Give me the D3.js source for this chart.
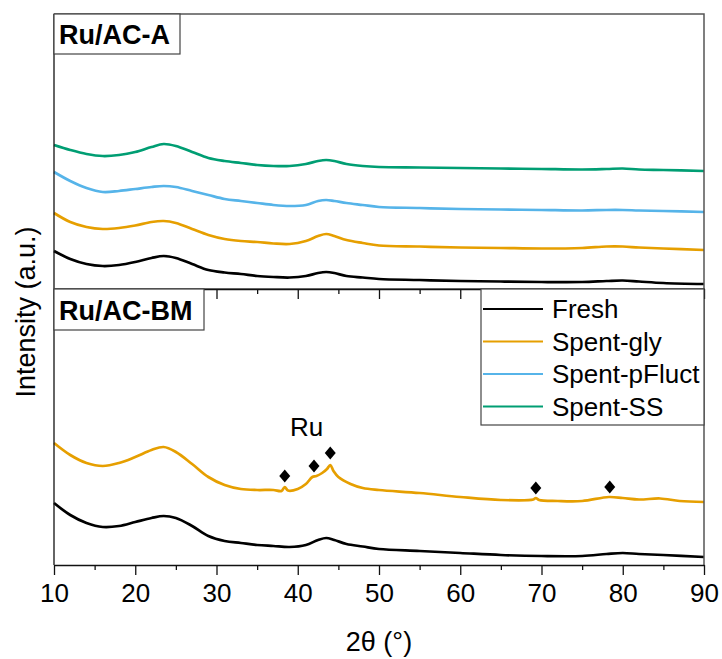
<!DOCTYPE html>
<html><head><meta charset="utf-8">
<script src="https://cdn.jsdelivr.net/npm/d3@7"></script>
<style>
body{margin:0;background:#fff}
text{font-family:"Liberation Sans",Arial,sans-serif;fill:#000}
</style>
</head><body>
<svg id="c" width="722" height="659"></svg>
<script>
// ---- data (2θ in degrees, intensity in arbitrary units) ----
const twoTheta = [10,12,14,16,18,20,22,23.5,25,27,29,31,33,35,37,39,41,42.5,43.5,44.5,46,48,50,55,60,65,70,75,78,80,82,85,90];

// Ru/AC-A panel (offset stacked)
const aFresh    = [38,30,25,23,24,27,31,33,31,25,19,16.5,15,13,12,11.5,13,16,17,16,13,11.5,10,9,8,7.5,7,7,8,8.5,7.5,6,5];
const aSpentGly = [76,67,62,60,61,63.5,67,68,66,60,54,50,48,47,45.5,45,48,53,55,53,49,46,43.5,42.5,41.5,41,40.5,41,42.5,42.5,41.5,40.5,39];
const aSpentPF  = [117,108,101,97,98,100,102,103,102,98,94,90,88,86,84,83,84,88,89,88,86,84,82,81,80,79.5,79,78.5,79,79,78.5,78,77];
const aSpentSS  = [144,139,135,133,134,137,142,145,143,137,131,128,126,124,123,123,125,128,129,128,125,123,122,121.5,121,120.5,120,119.5,120,120.5,119.5,119,118];

// Ru/AC-BM panel
const bmFresh = [62,50,42,38,39,43,47,49,47,39,29,24,22,20,19,18,20,25,27,25,21,18.5,16,14,12,10,9,9,11,12,11,10,8];
const twoThetaGly = [10,12,14,16,18,20,22,23.5,25,27,29,31,33,35,37,38,38.4,38.8,40,41,41.8,42.3,43,43.6,44,44.4,45,46.5,48,50,55,60,65,69,69.3,69.7,72,75,78.3,80,82,84.6,87,90];
const bmSpentGly = [122,110,102,99,102,108,115,118,113,101,88,80,76,75,75,74,78,74.5,76,81,88,89,92,96,100,94,88,81,77,75,72,68,65,65.5,67,65,64,64,68,67,65.5,66.5,64,63];

// Ru reflections (diamond markers)
const ruPeakPos    = [38.4, 42.0, 44.0, 69.3, 78.4];
const ruPeakHeight = [89, 99, 112, 77, 78];

const seriesNames  = ["Fresh","Spent-gly","Spent-pFluct","Spent-SS"];
const seriesColors = ["#000000","#E69F00","#56B4E9","#009E73"];
const xTicks = [10,20,30,40,50,60,70,80,90];
const xMinorTicks = [15,25,35,45,55,65,75,85];

// ---- layout ----
const svg = d3.select("#c");
const L = 54, R = 704, topT = 14, mid = 289, botB = 565;

const x = d3.scaleLinear().domain([10,90]).range([L,R]);
const yA = d3.scaleLinear().domain([0,275]).range([mid, topT]);
const yB = d3.scaleLinear().domain([0,276]).range([botB, mid]);

const lineGen = (xs, ys, y) => d3.line()
  .x((d,i)=>x(xs[i])).y(d=>y(d)).curve(d3.curveCatmullRom.alpha(0.5))(ys);

function drawSeries(xs, ys, y, color){
  svg.append("path").attr("d", lineGen(xs, ys, y))
    .attr("fill","none").attr("stroke",color).attr("stroke-width",2.7)
    .attr("stroke-linejoin","round");
}

// top panel curves
drawSeries(twoTheta, aSpentSS, yA, seriesColors[3]);
drawSeries(twoTheta, aSpentPF, yA, seriesColors[2]);
drawSeries(twoTheta, aSpentGly, yA, seriesColors[1]);
drawSeries(twoTheta, aFresh, yA, seriesColors[0]);

// bottom panel curves
drawSeries(twoThetaGly, bmSpentGly, yB, seriesColors[1]);
drawSeries(twoTheta, bmFresh, yB, seriesColors[0]);

// diamonds
svg.append("g").selectAll("path").data(ruPeakPos).join("path")
  .attr("transform",(d,i)=>`translate(${x(d)},${yB(ruPeakHeight[i])})`)
  .attr("d","M0,-6.5L5.5,0L0,6.5L-5.5,0Z").attr("fill","#000");

svg.append("text").attr("x", x(41.1)).attr("y", yB(138)).attr("dy","0.35em")
  .attr("text-anchor","middle").style("font-size","26px").text("Ru");

// frames
function frame(y0, y1){
  svg.append("path").attr("d",`M${L},${y0}H${R}V${y1}`).attr("fill","none")
    .attr("stroke","#555").attr("stroke-width",1.5);
  svg.append("path").attr("d",`M${L},${y0}V${y1}`).attr("fill","none")
    .attr("stroke","#111").attr("stroke-width",1.3);
}
frame(topT, mid);
frame(mid, botB);

function xAxis(yPos, labels){
  const g = svg.append("g").attr("transform",`translate(0,${yPos})`)
    .call(d3.axisBottom(x).tickValues(xTicks).tickSize(10).tickSizeOuter(0)
      .tickFormat(labels ? d3.format("d") : ""));
  g.select(".domain").attr("stroke","#111").attr("stroke-width",1.3);
  g.selectAll(".tick line").attr("stroke","#111").attr("stroke-width",1.3);
  g.selectAll(".tick text").style("font-size","26px").attr("dy","0").attr("y",37)
    .style("font-family","'Liberation Sans',Arial,sans-serif").attr("fill","#000");
  const gm = svg.append("g").attr("transform",`translate(0,${yPos})`)
    .call(d3.axisBottom(x).tickValues(xMinorTicks).tickSize(5).tickSizeOuter(0).tickFormat(""));
  gm.select(".domain").remove();
  gm.selectAll(".tick line").attr("stroke","#111").attr("stroke-width",1.3);
}
xAxis(mid, false);
xAxis(botB, true);

// panel labels
function panelLabel(txt, x0, y0, w, h, base){
  svg.append("rect").attr("x",x0).attr("y",y0).attr("width",w).attr("height",h)
    .attr("fill","#fff").attr("stroke","#444").attr("stroke-width",1.2);
  svg.append("text").attr("x",x0+5).attr("y",base).style("font-size","27px")
    .style("font-weight","bold").text(txt);
}
panelLabel("Ru/AC-A", L, topT, 126, 40, 44);
panelLabel("Ru/AC-BM", L, mid, 150, 41, 320);

// legend
const lg = svg.append("g");
lg.append("rect").attr("x",481).attr("y",mid).attr("width",R-481).attr("height",136)
  .attr("fill","#fff").attr("stroke","#444").attr("stroke-width",1.2);
seriesNames.forEach((n,i)=>{
  const yy = 309 + i*32.5;
  lg.append("line").attr("x1",483).attr("x2",543).attr("y1",yy).attr("y2",yy)
    .attr("stroke",seriesColors[i]).attr("stroke-width",2);
  lg.append("text").attr("x",552).attr("y",yy+9).style("font-size","26px").text(n);
});

// axis titles
svg.append("text").attr("x",379).attr("y",651).attr("text-anchor","middle")
  .style("font-size","27px").text("2θ (°)");
svg.append("text").attr("transform","translate(35,312) rotate(-90)")
  .attr("text-anchor","middle").style("font-size","27px").text("Intensity (a.u.)");
</script>
</body></html>
